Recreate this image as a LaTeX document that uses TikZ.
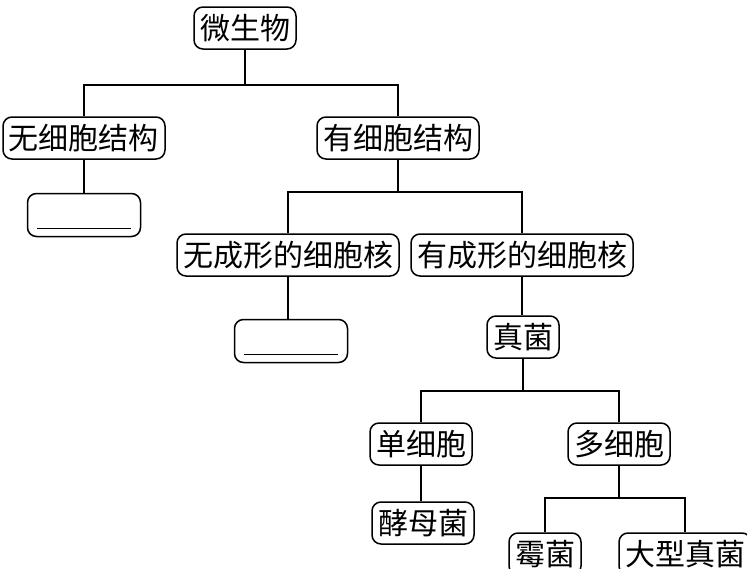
\documentclass[tikz,border=0pt]{standalone}
\usepackage{fontspec}
\newfontfamily\cjk{Noto Sans CJK SC}
\usetikzlibrary{positioning}
\tikzset{
    box/.style={
        rectangle,
        rounded corners=9pt,
        draw, line width=1.5pt,
        inner xsep=6pt,
        minimum height=42pt,
        font=\cjk\fontsize{30}{32}\selectfont
    },
    blank/.style={box, minimum width=113pt, minimum height=43pt},
    line/.style={draw, line width=1.5pt},
}

\begin{document}
\begin{tikzpicture}[x=1pt, y=-1pt]
    \clip (0,0) rectangle (747,568);
    \useasboundingbox (0,0) rectangle (747,568);

    \node [box] (micro) at (245, 28) {微生物};
    \node [box] (nocell) at (84, 138) {无细胞结构};
    \node [box] (cell) at (398, 138) {有细胞结构};
    \node [blank] (virus) at (84, 215) {};
    \node [box] (nonuc) at (288, 255) {无成形的细胞核};
    \node [box] (nuc) at (522, 255) {有成形的细胞核};
    \node [blank] (bact) at (291, 341) {};
    \node [box] (fungi) at (523, 337) {真菌};
    \node [box] (single) at (421, 444) {单细胞};
    \node [box] (multi) at (619, 444) {多细胞};
    \node [box] (yeast) at (423, 523) {酵母菌};
    \node [box] (mold) at (545, 554) {霉菌};
    \node [box] (bigf) at (685, 554) {大型真菌};

    % blanks to fill in
    \draw [line] ([xshift=10pt, yshift=9pt]virus.south west) -- ([xshift=-10pt, yshift=9pt]virus.south east);
    \draw [line] ([xshift=10pt, yshift=9pt]bact.south west) -- ([xshift=-10pt, yshift=9pt]bact.south east);

    \draw [line] (micro.south) -- ++(0, 35) coordinate (j1);
    \draw [line] (nocell.north) |- (j1) -| (cell.north);
    \draw [line] (nocell.south) -- (nocell.south |- virus.north);

    \draw [line] (cell.south) -- ++(0, 32) coordinate (j2);
    \draw [line] (nonuc.north) |- (j2) -| (nuc.north);
    \draw [line] (nonuc.south) -- (nonuc.south |- bact.north);
    \draw [line] (nuc.south) -- (nuc.south |- fungi.north);

    \draw [line] (fungi.south) -- ++(0, 32) coordinate (j3);
    \draw [line] (single.north) |- (j3) -| (multi.north);
    \draw [line] (single.south) -- (single.south |- yeast.north);

    \draw [line] (multi.south) -- ++(0, 32) coordinate (j4);
    \draw [line] (mold.north) |- (j4) -| (bigf.north);
\end{tikzpicture}
\end{document}
